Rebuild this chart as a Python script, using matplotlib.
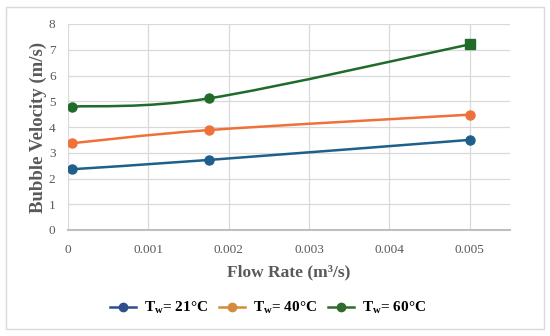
import matplotlib
matplotlib.use("Agg")
import matplotlib.pyplot as plt
from matplotlib.path import Path
from matplotlib.patches import PathPatch, Rectangle
from matplotlib.lines import Line2D
import numpy as np

flow_rate = [0.00005, 0.00175, 0.005]
v_21 = [2.36, 2.72, 3.50]
v_40 = [3.37, 3.88, 4.48]
v_60 = [4.79, 5.11, 7.21]
labels = [r"$\mathrm{T_w}$= 21°C", r"$\mathrm{T_w}$= 40°C", r"$\mathrm{T_w}$= 60°C"]
line_colors = ["#1F5F8B", "#F0703A", "#1E6B2A"]
legend_colors = ["#2F4F8C", "#D58A3C", "#2E6B2E"]

plt.rcParams["font.family"] = ["Liberation Serif", "DejaVu Serif"]
plt.rcParams["mathtext.fontset"] = "custom"
plt.rcParams["mathtext.rm"] = "Liberation Serif:bold"
plt.rcParams["mathtext.it"] = "Liberation Serif:bold"
plt.rcParams["mathtext.bf"] = "Liberation Serif:bold"

fig = plt.figure(figsize=(5.5, 3.36), dpi=100)
fig.patches.append(Rectangle((6 / 550, 1 - 329 / 336), 538 / 550, 322 / 336,
                             transform=fig.transFigure, fill=False,
                             edgecolor="#D9D9D9", lw=1.0))
ax = fig.add_axes([68 / 550, 1 - 230 / 336, 442 / 550, 206 / 336])


def smooth_path(ax, xs, ys, color):
    # Excel-like smoothed line via cubic Bezier, computed in display space
    pts = ax.transData.transform(np.column_stack([xs, ys]))
    n = len(pts)
    verts = [pts[0]]
    codes = [Path.MOVETO]
    for i in range(n - 1):
        p0 = pts[i - 1] if i > 0 else pts[i]
        p1 = pts[i]
        p2 = pts[i + 1]
        p3 = pts[i + 2] if i + 2 < n else pts[i + 1]
        c1 = p1 + (p2 - p0) / 6
        c2 = p2 - (p3 - p1) / 6
        verts += [c1, c2, p2]
        codes += [Path.CURVE4] * 3
    path = Path(verts, codes)
    ax.add_patch(PathPatch(path, transform=None, facecolor="none",
                           edgecolor=color, lw=1.8, zorder=3))


ax.set_xlim(0, 0.0055)
ax.set_ylim(0, 8)

for ys, c in zip([v_21, v_40, v_60], line_colors):
    smooth_path(ax, flow_rate, ys, c)

ax.plot(flow_rate, v_21, "o", color=line_colors[0], ms=6.5, zorder=4)
ax.plot(flow_rate, v_40, "o", color=line_colors[1], ms=6.5, zorder=4)
ax.plot(flow_rate[:-1], v_60[:-1], "o", color=line_colors[2], ms=6.5, zorder=4)
ax.plot(flow_rate[-1:], v_60[-1:], "s", color=line_colors[2], ms=6.5, zorder=4)

ax.set_xticks([0, 0.001, 0.002, 0.003, 0.004, 0.005])
ax.set_xticklabels(["0", "0.001", "0.002", "0.003", "0.004", "0.005"])
ax.set_yticks(range(0, 9))
ax.grid(True, color="#D9D9D9", lw=0.9)
ax.set_axisbelow(True)
for s in ["top", "right", "left"]:
    ax.spines[s].set_visible(False)
ax.spines["bottom"].set_color("#BFBFBF")
ax.spines["bottom"].set_linewidth(1.5)
ax.tick_params(length=0, labelsize=9.5, labelcolor="#595959")
ax.tick_params(axis="x", pad=10)
ax.tick_params(axis="y", pad=9)

ax.set_xlabel("Flow Rate (m³/s)", fontsize=12.5, fontweight="bold",
              color="#595959", labelpad=6)
ax.set_ylabel("Bubble Velocity (m/s)", fontsize=13.5, fontweight="bold",
              color="#595959", labelpad=1)

handles = [Line2D([], [], color=c, marker="o", ms=6, lw=1.8) for c in legend_colors]
fig.legend(handles, labels, loc="center", bbox_to_anchor=(268 / 550, 1 - 308 / 336),
           ncol=3, frameon=False, handlelength=1.7, columnspacing=0.7,
           handletextpad=0.55, prop={"size": 11, "weight": "bold"})

fig.savefig("out.png", dpi=100)
